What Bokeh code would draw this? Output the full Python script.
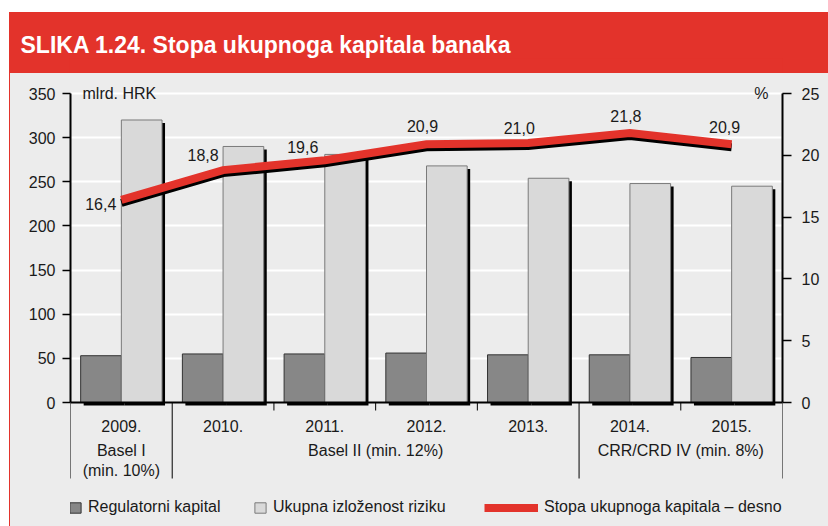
import numpy as np
from bokeh.plotting import figure
from bokeh.models import (Range1d, LinearAxis, FixedTicker, ColumnDataSource, Label,
                          Legend, LegendItem, Span, Title)
from bokeh.transform import dodge
from bokeh.layouts import column
from bokeh.core.properties import value
from bokeh.embed import file_html
from bokeh.resources import INLINE

# ---------------- data ----------------
years = ["2009.", "2010.", "2011.", "2012.", "2013.", "2014.", "2015."]
regimes = ["Basel I\n(min. 10%)", "Basel II (min. 12%)", "Basel II (min. 12%)",
           "Basel II (min. 12%)", "Basel II (min. 12%)",
           "CRR/CRD IV (min. 8%)", "CRR/CRD IV (min. 8%)"]
regulatorni_kapital = [53, 55, 55, 56, 54, 54, 51]
ukupna_izlozenost = [320, 290, 281, 268, 254, 248, 245]
stopa_kapitala = [16.4, 18.8, 19.6, 20.9, 21.0, 21.8, 20.9]
stopa_labels = ["16,4", "18,8", "19,6", "20,9", "21,0", "21,8", "20,9"]
left_ticks = [0, 50, 100, 150, 200, 250, 300, 350]
right_ticks = [0, 5, 10, 15, 20, 25]

title_text = "SLIKA 1.24. Stopa ukupnoga kapitala banaka"
unit_left = "mlrd. HRK"
unit_right = "%"
legend_names = ["Regulatorni kapital", "Ukupna izloženost riziku",
                "Stopa ukupnoga kapitala – desno"]

# ---------------- style ----------------
FONT = "Liberation Sans"
RED = "#e3332b"
PANEL = "#ececec"
DARK = "#878787"
LIGHT = "#d9d9d9"
TXT = "#1a1a1a"

W = 819
H_TITLE = 61
H_MAIN = 453
B_LEFT, B_RIGHT, B_TOP = 60, 46, 7
EXTRA_TOP = 13                         # px of frame above the 350 line
W_MAIN = W - 1                         # 1px red edge on the left of the panel
BL_MAIN = B_LEFT - 1
frame_w = W_MAIN - BL_MAIN - B_RIGHT
frame_h = H_MAIN - B_TOP
plot_px = 309.0                        # pixel height of the 0..350 axis
ppu_l = plot_px / 350.0                # px per left unit
ppu_r = plot_px / 25.0                 # px per right unit
n = len(years)
ppx = frame_w / n                      # px per category

y_hi = 350 + EXTRA_TOP / ppu_l
y_lo = y_hi - frame_h / ppu_l
yr_hi = 25 + EXTRA_TOP / ppu_r
yr_lo = yr_hi - frame_h / ppu_r

# ---------------- title bar ----------------
t = figure(width=W, height=H_TITLE, output_backend="svg", toolbar_location=None,
           x_axis_location=None, y_axis_location=None,
           min_border_left=B_LEFT, min_border_right=B_RIGHT, min_border_top=46,
           min_border_bottom=0,
           x_range=Range1d(0, 1), y_range=Range1d(0, 1),
           styles={"background-color": RED})
t.border_fill_color = RED
t.background_fill_color = RED
t.outline_line_color = None
t.grid.visible = False
t.add_layout(Title(text=title_text, align="left", offset=11 - B_LEFT, standoff=0,
                   vertical_align="middle", text_color="white", text_font=FONT,
                   text_font_style="bold", text_font_size="23px",
                   background_fill_color=None, border_line_color=None), "above")

# ---------------- main chart ----------------
p = figure(width=W_MAIN, height=H_MAIN, output_backend="svg", toolbar_location=None,
           x_axis_location=None,
           min_border_left=BL_MAIN, min_border_right=B_RIGHT, min_border_top=B_TOP,
           min_border_bottom=0,
           x_range=Range1d(0, n), y_range=Range1d(y_lo, y_hi),
           styles={"margin-left": "1px", "background-color": PANEL})
p.extra_y_ranges = {"pct": Range1d(yr_lo, yr_hi)}
p.border_fill_color = PANEL
p.background_fill_color = PANEL
p.outline_line_color = None
p.xgrid.visible = False
p.ygrid.ticker = FixedTicker(ticks=left_ticks[1:])
p.ygrid.grid_line_color = "white"
p.ygrid.grid_line_width = 2

# left axis
ax = p.yaxis[0]
ax.ticker = FixedTicker(ticks=left_ticks)
ax.bounds = (0, 350)
ax.axis_line_color = "black"
ax.axis_line_width = 2
ax.major_tick_line_color = "black"
ax.major_tick_line_width = 1.5
ax.major_tick_out = 8
ax.major_tick_in = 0
ax.minor_tick_line_color = None
ax.major_label_standoff = 7
ax.major_label_text_font = FONT
ax.major_label_text_font_size = "16px"
ax.major_label_text_color = TXT

# right axis
rax = LinearAxis(y_range_name="pct", ticker=FixedTicker(ticks=right_ticks), bounds=(0, 25))
rax.axis_line_color = "black"
rax.axis_line_width = 2
rax.major_tick_line_color = "black"
rax.major_tick_line_width = 1.5
rax.major_tick_out = 9
rax.major_tick_in = 0
rax.minor_tick_line_color = None
rax.major_label_standoff = 10
rax.major_label_text_font = FONT
rax.major_label_text_font_size = "16px"
rax.major_label_text_color = TXT
p.add_layout(rax, "right")

xc = np.arange(n) + 0.5
src = ColumnDataSource(dict(x=xc, year=years, dark=regulatorni_kapital,
                            light=ukupna_izlozenost, rate=stopa_kapitala,
                            lab=stopa_labels))

bw = 0.4
sx = 3 / ppx          # shadow offset, x
sy = 3 / ppu_l        # shadow offset, y
# shadows
p.vbar(x=dodge("x", -bw / 2 + sx), top=dodge("dark", -sy), bottom=-sy, width=bw,
       source=src, fill_color="black", line_color=None)
p.vbar(x=dodge("x", bw / 2 + sx), top=dodge("light", -sy), bottom=-sy, width=bw,
       source=src, fill_color="black", line_color=None)
# bars
r_dark = p.vbar(x=dodge("x", -bw / 2), top="dark", bottom=0, width=bw, source=src,
                fill_color=DARK, line_color="#333333", line_width=1)
r_light = p.vbar(x=dodge("x", bw / 2), top="light", bottom=0, width=bw, source=src,
                 fill_color=LIGHT, line_color="#7a7a7a", line_width=1)

# baseline
p.add_layout(Span(location=0, dimension="width", line_color="black", line_width=2))

# line with shadow
p.line(x="x", y=dodge("rate", -3 / ppu_r), source=src, y_range_name="pct",
       line_color="black", line_width=8, line_join="miter")
r_line = p.line(x="x", y="rate", source=src, y_range_name="pct",
                line_color=RED, line_width=8, line_join="miter")

# data labels (offsets are placement style)
lab_dx = [-5, -20, -22, -4, -9, -4, -7]
lab_dy = [4, -15, -13, -18, -15, -17, -17]
lab_align = ["right", "center", "center", "center", "center", "center", "center"]
src.data["dx"] = lab_dx
src.data["dy"] = lab_dy
src.data["al"] = lab_align
p.text(x="x", y="rate", text="lab", source=src, y_range_name="pct",
       x_offset="dx", y_offset="dy", text_align="al", text_baseline="middle",
       text_font=value(FONT), text_font_size="16px", text_color=TXT)

# unit labels
p.add_layout(Label(x=0, y=350, x_offset=12, text=unit_left, text_baseline="middle",
                   text_font=FONT, text_font_size="16px", text_color=TXT))
p.add_layout(Label(x=n, y=25, y_range_name="pct", x_offset=-14, text=unit_right,
                   text_align="right", text_baseline="middle",
                   text_font=FONT, text_font_size="16px", text_color=TXT))

# ---------------- category area below the axis ----------------
sep_len = 76 / ppu_l
tick_len = 8 / ppu_l
runs = []
start = 0
for i in range(1, n + 1):
    if i == n or regimes[i] != regimes[start]:
        runs.append((start, i, regimes[start]))
        start = i
full_x = sorted(set([r[0] for r in runs] + [r[1] for r in runs]))
short_x = [i for i in range(1, n) if i not in full_x]
p.segment(x0=full_x, x1=full_x, y0=[0] * len(full_x), y1=[-sep_len] * len(full_x),
          line_color="black", line_width=1)
p.segment(x0=short_x, x1=short_x, y0=[0] * len(short_x), y1=[-tick_len] * len(short_x),
          line_color="black", line_width=1)

p.text(x="x", y=0, text="year", source=src, y_offset=23, text_align="center",
       text_baseline="middle", text_font=value(FONT), text_font_size="16px",
       text_color=TXT)
p.text(x=[(a + b) / 2 for a, b, _ in runs], y=[0] * len(runs),
       text=[r[2] for r in runs], y_offset=39, text_align="center",
       text_baseline="top", text_line_height=1.2, text_font=value(FONT),
       text_font_size="16px", text_color=TXT)

# ---------------- legends ----------------
def make_legend(item_name, renderer, x, gw, gh):
    lg = Legend(items=[LegendItem(label=item_name, renderers=[renderer])],
                location=(x, 10), orientation="horizontal",
                glyph_width=gw, glyph_height=gh, label_standoff=6,
                padding=0, margin=0, border_line_color=None,
                background_fill_alpha=0,
                label_text_font=FONT, label_text_font_size="16px",
                label_text_color=TXT, label_height=14)
    p.add_layout(lg, "center")

make_legend(legend_names[0], r_dark, 67 - 69, 14, 13)
make_legend(legend_names[1], r_light, 252 - 69, 14, 13)
make_legend(legend_names[2], r_line, 483 - 69, 54, 13)

layout = column(t, p, spacing=0,
                styles={"margin-left": "9px", "margin-top": "12px",
                        "background-color": RED})
open("out.html", "w").write(file_html(layout, INLINE))
